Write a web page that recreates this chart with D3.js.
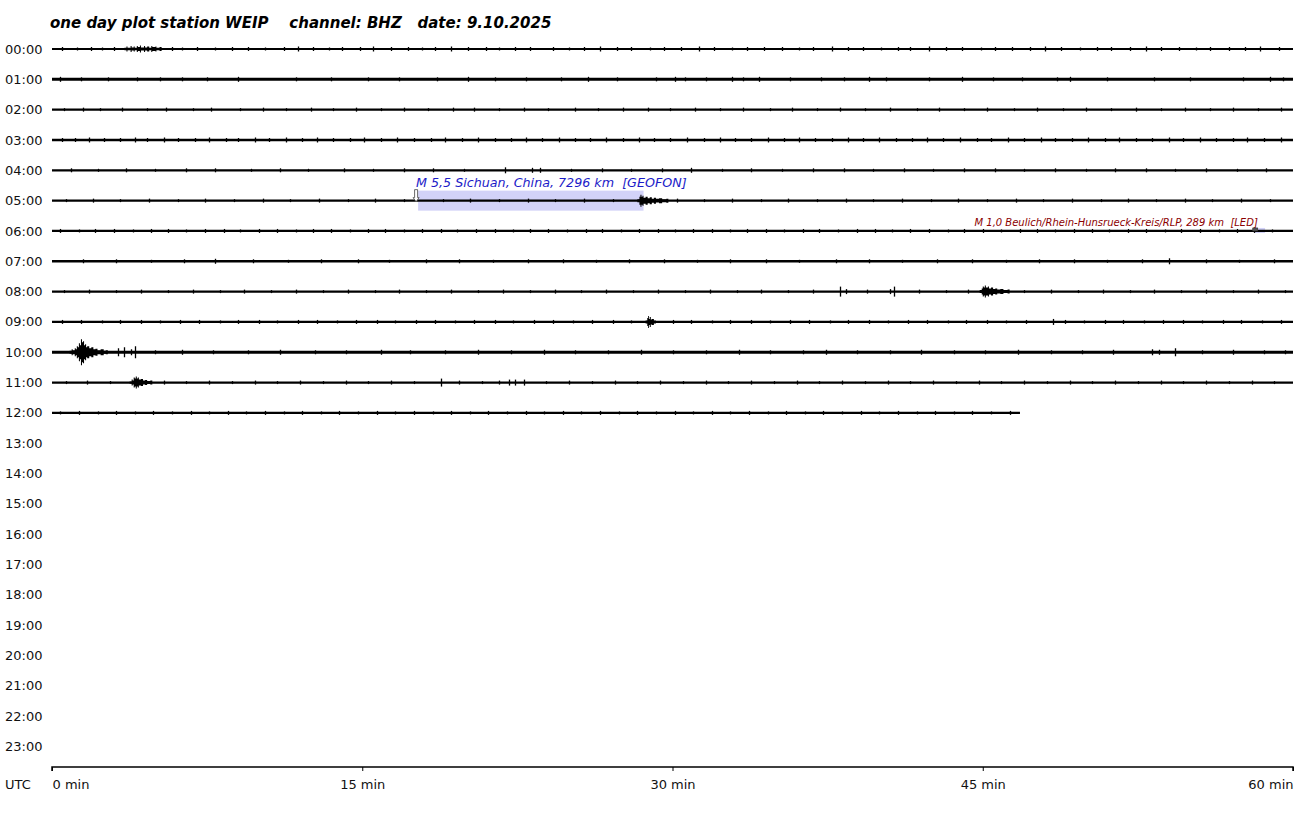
<!DOCTYPE html>
<html><head><meta charset="utf-8">
<script src="https://cdn.jsdelivr.net/npm/d3@7"></script>
<style>body{margin:0;background:#fff}svg{display:block}text{font-family:"DejaVu Sans",sans-serif}</style>
</head><body>
<svg id="c" width="1304" height="813"></svg>
<script>
// ---------- data ----------
const titleText = "one day plot station WEIP    channel: BHZ   date: 9.10.2025";
const hourLabels = ["00:00","01:00","02:00","03:00","04:00","05:00","06:00","07:00","08:00","09:00","10:00","11:00",
  "12:00","13:00","14:00","15:00","16:00","17:00","18:00","19:00","20:00","21:00","22:00","23:00"];
const minuteTicks = [0, 15, 30, 45, 60];
const minuteTickLabels = ["0 min", "15 min", "30 min", "45 min", "60 min"];
const axisUnitLabel = "UTC";
// recorded minutes per hour row (rows 00..12)
const traceEnd = [60,60,60,60,60,60,60,60,60,60,60,60,46.8];
// background noise amplitude (counts, relative) per row
const baseNoise = [1.1,1.5,1.1,1.2,1.1,1.1,1.1,1.3,1.1,1.1,1.4,1.1,1.1];
// isolated spikes per row: [minute, amplitude]
const spikes = [
  [[0.5,2],[1.2,1.5],[1.9,2],[2.4,1.5],[3.0,2],[5.8,2],[6.3,1.5],[7.0,2],[7.9,1.5],[8.7,2],[9.5,2],[10.3,1.5],[11.2,2],[11.9,2.5],[12.6,2],[13.4,1.5],[14.0,2],[14.9,2],[15.5,2.5],[16.4,2],[17.2,2],[17.9,1.5],[18.5,2],[19.3,2.5],[20.1,2],[21.0,2],[21.6,1.5],[22.4,2],[23.1,2],[24.2,2],[25.0,1.5],[25.7,2],[26.5,2.5],[27.3,2],[28.0,2],[28.9,1.5],[29.6,2],[30.4,2],[31.3,2.5],[32.0,2],[32.9,1.5],[33.6,2],[34.4,2],[35.3,2],[36.1,1.5],[36.8,2],[37.7,2.5],[38.5,2],[39.2,2],[40.1,1.5],[40.9,2],[41.5,2],[42.4,2.5],[43.2,2],[44.0,2],[44.9,1.5],[45.6,2],[46.4,2],[47.3,2],[48.0,2.5],[48.8,2],[49.7,1.5],[50.5,2],[51.2,2],[52.1,2],[52.9,2.5],[53.6,2],[54.5,2],[55.3,1.5],[56.0,2],[56.9,2],[57.7,2],[58.4,2.5],[59.3,2]],
  [[0.4,2.5],[1.4,2],[2.7,2],[4.1,2],[5.2,2],[6.3,2],[7.5,2],[9.0,2.5],[11.8,2],[13.5,2],[15.3,2],[16.8,2],[18.6,2],[20.1,2.5],[21.4,2],[22.9,2],[24.6,2],[25.9,2.5],[27.3,2],[29.2,2],[30.1,2.5],[30.6,2],[31.6,2],[32.9,2.5],[33.4,2],[34.2,2.5],[35.7,2],[37.2,2],[38.3,2],[39.5,2.5],[40.3,2],[42.4,2],[44.0,2.5],[45.5,2],[46.9,2],[48.6,2],[49.2,2.5],[51.0,2],[53.3,2],[55.0,2],[57.6,2],[58.9,2.5],[59.5,2]],
  [[0.6,1.5],[1.5,2],[2.3,1.5],[3.4,2],[4.6,1.5],[5.5,2],[6.8,1.5],[7.7,2],[9.1,1.5],[10.2,2],[11.3,1.5],[12.5,2],[13.6,1.5],[14.7,2],[15.9,1.5],[17.0,2],[18.2,1.5],[19.4,2],[20.4,2],[21.6,1.5],[22.8,2],[24.0,1.5],[25.3,2],[26.4,1.5],[27.6,2],[28.8,2],[29.9,1.5],[31.1,2],[32.3,1.5],[33.4,2],[34.7,1.5],[35.8,2],[37.0,1.5],[38.1,2],[39.3,1.5],[40.5,2],[41.8,1.5],[42.9,2],[44.1,1.5],[45.2,2],[46.5,1.5],[47.6,2],[48.9,1.5],[50.0,2],[51.2,1.5],[52.4,2],[53.6,1.5],[54.8,2],[56.0,1.5],[57.1,2],[58.3,1.5],[59.4,2]],
  [[0.5,2],[1.1,2],[1.8,2.5],[2.5,2],[3.3,2],[4.0,2.5],[4.6,2],[5.4,2.5],[6.1,2],[6.9,2],[7.6,2.5],[8.4,2],[9.0,2],[9.8,2.5],[10.5,2],[11.3,2.5],[12.1,2],[12.8,2.5],[13.6,2],[14.4,2],[15.1,2.5],[15.9,2],[16.7,2.5],[17.5,2],[18.3,2],[19.0,2.5],[19.8,2],[20.6,2.5],[21.4,2],[22.2,2],[22.9,2.5],[23.7,2],[24.5,2.5],[25.3,2],[26.0,2],[26.8,2.5],[27.6,2],[28.4,2.5],[29.1,2],[29.9,2],[30.7,2.5],[31.5,2],[32.3,2.5],[33.0,2],[33.8,2],[34.6,2.5],[35.4,2],[36.1,2.5],[36.9,2],[37.7,2],[38.5,2.5],[39.2,2],[40.0,2.5],[40.8,2],[41.6,2],[42.3,2.5],[43.1,2],[43.9,2.5],[44.7,2],[45.4,2],[46.2,2.5],[47.0,2],[47.8,2.5],[48.5,2],[49.3,2],[50.1,2.5],[50.9,2],[51.6,2.5],[52.4,2],[53.2,2],[54.0,2.5],[54.7,2],[55.5,2.5],[56.3,2],[57.1,2],[57.8,2.5],[58.6,2],[59.4,2.5]],
  [[0.9,2],[2.2,1.5],[3.6,2],[5.0,1.5],[6.5,2],[7.9,2],[9.6,1.5],[11.0,2],[12.4,1.5],[14.1,2],[15.5,1.5],[17.0,2],[18.4,2],[19.9,1.5],[21.9,3],[23.2,2.5],[23.6,2.5],[25.1,1.5],[26.6,2],[28.0,1.5],[29.5,2],[30.9,2.5],[32.4,1.5],[33.8,2],[35.3,1.5],[36.8,2],[38.3,2],[39.7,1.5],[41.2,2],[42.6,1.5],[44.1,2],[45.6,2],[47.0,1.5],[48.5,2],[50.0,1.5],[51.4,2],[52.9,2],[54.3,1.5],[55.8,2],[57.3,1.5],[58.7,2]],
  [[0.7,1.5],[2.0,2],[3.3,1.5],[4.7,2],[6.1,1.5],[7.4,2],[8.8,1.5],[10.2,2],[11.5,1.5],[12.9,2],[14.3,1.5],[15.6,2],[17.0,1.5],[18.9,1.5],[20.2,2],[21.6,1.5],[23.0,2],[24.3,1.5],[25.7,2],[27.1,1.5],[30.2,2],[31.5,1.5],[32.9,2],[34.3,1.5],[35.6,2],[37.0,1.5],[38.4,2],[39.7,1.5],[41.1,2],[42.5,1.5],[43.8,2],[45.2,1.5],[46.6,2],[47.9,1.5],[49.3,2],[50.7,1.5],[52.0,2],[53.4,1.5],[54.8,2],[56.1,1.5],[57.5,2],[58.9,1.5]],
  [[0.4,2],[1.3,1.5],[2.1,2],[3.0,2],[3.9,1.5],[4.8,2],[5.6,2],[6.5,1.5],[7.4,2],[8.3,2],[9.1,1.5],[10.0,2],[10.9,2],[11.8,1.5],[12.6,2],[13.5,2],[14.4,1.5],[15.3,2],[16.1,2],[17.0,1.5],[17.9,2],[18.8,2],[19.6,1.5],[20.5,2],[21.4,2],[22.3,1.5],[23.1,2],[24.0,2],[24.9,1.5],[25.8,2],[26.6,2],[27.5,1.5],[28.4,2],[29.3,2],[30.1,1.5],[31.0,2],[31.9,2],[32.8,1.5],[33.6,2],[34.5,2],[35.4,1.5],[36.3,2],[37.1,2],[38.0,1.5],[38.9,2],[39.8,2],[40.6,1.5],[41.5,2],[42.4,2],[43.3,1.5],[44.1,2],[45.0,2],[45.9,1.5],[46.8,2],[47.6,2],[48.5,1.5],[49.4,2],[50.3,2],[51.1,1.5],[52.0,2],[52.9,2],[53.8,1.5],[54.6,2],[55.5,2],[56.4,1.5],[57.3,2],[58.1,2],[59.0,1.5]],
  [[1.5,2],[3.1,2],[4.8,1.5],[6.4,2],[7.9,2.5],[9.7,2],[11.4,1.5],[13.0,2],[14.8,2],[16.3,1.5],[18.1,2],[19.7,2],[21.3,1.5],[23.0,2],[24.7,2],[26.3,1.5],[27.9,2],[29.6,2],[31.2,1.5],[32.8,2],[34.5,2],[36.1,1.5],[37.9,2],[39.5,2],[41.1,1.5],[42.8,2],[44.5,2],[46.1,1.5],[47.7,2],[49.4,2],[51.0,1.5],[52.7,2],[54.0,3],[55.8,2],[57.4,1.5],[59.1,2]],
  [[0.6,1.5],[1.8,2],[3.1,1.5],[4.3,2],[5.6,1.5],[6.8,2],[8.1,1.5],[9.3,2],[10.6,1.5],[11.8,2],[13.1,1.5],[14.3,2],[15.6,1.5],[16.8,2],[18.1,1.5],[19.3,2],[20.6,1.5],[21.8,2],[23.1,1.5],[24.3,2],[25.6,1.5],[26.8,2],[28.1,1.5],[29.3,2],[30.6,1.5],[31.8,2],[33.1,1.5],[34.3,2],[35.6,1.5],[36.8,2],[38.1,5],[38.4,2.5],[39.4,2],[40.5,2.5],[40.7,5],[41.9,2],[43.2,1.5],[44.3,2],[47.0,1.5],[48.3,2],[49.6,1.5],[50.8,2],[52.1,1.5],[53.3,2],[54.6,1.5],[55.8,2],[57.1,1.5],[58.3,2],[59.6,1.5]],
  [[0.5,2],[1.4,2],[2.4,1.5],[3.3,2],[4.3,2],[5.2,1.5],[6.2,2],[7.1,2],[8.1,1.5],[9.0,2],[10.0,2],[10.9,1.5],[11.9,2],[12.8,2],[13.8,1.5],[14.7,2],[15.7,2],[16.6,1.5],[17.6,2],[18.5,2],[19.5,1.5],[20.4,2],[21.4,2],[22.3,1.5],[23.3,2],[24.2,2],[25.2,1.5],[26.1,2],[27.1,2],[28.0,1.5],[30.0,2],[30.9,2],[31.9,1.5],[32.8,2],[33.8,2],[34.7,1.5],[35.7,2],[36.6,2],[37.6,1.5],[38.5,2],[39.5,2],[40.4,1.5],[41.4,2],[42.3,2],[43.3,1.5],[44.2,2],[45.2,2],[46.1,1.5],[47.1,2],[48.4,3],[49.0,2],[49.9,1.5],[50.9,2],[51.8,2],[52.8,1.5],[53.7,2],[54.7,2],[55.6,1.5],[56.6,2],[57.5,2],[58.5,1.5],[59.4,2]],
  [[3.2,4],[3.5,5],[3.8,3],[4.0,6],[5.0,2],[6.3,2.5],[7.8,2],[9.5,2],[11.0,2.5],[12.7,2],[14.2,2],[15.9,2.5],[17.3,2],[19.0,2],[20.6,2.5],[22.2,2],[23.8,2.5],[25.3,2],[26.9,2],[28.5,2.5],[30.0,2],[31.6,2],[33.2,2.5],[34.7,2],[36.3,2],[37.4,2.5],[38.9,2],[40.5,2],[42.0,2.5],[43.6,2],[45.1,2],[46.7,2.5],[48.3,2],[49.8,2],[51.3,2.5],[53.2,3],[53.5,2.5],[54.3,4],[55.6,2],[57.1,2.5],[58.6,2],[59.6,2]],
  [[0.7,1.5],[1.7,2],[2.8,1.5],[5.4,2],[6.5,1.5],[7.6,2],[8.7,1.5],[9.8,2],[10.9,1.5],[12.0,2],[13.1,1.5],[14.2,2],[15.3,1.5],[16.4,2],[17.5,1.5],[18.8,4],[19.7,2],[20.8,1.5],[21.6,2],[22.1,3],[22.4,3],[22.8,3],[23.9,1.5],[25.0,2],[26.1,1.5],[27.2,2],[28.3,1.5],[29.4,2],[30.5,1.5],[31.6,2],[32.7,1.5],[33.8,2],[34.9,1.5],[36.0,2],[37.1,1.5],[38.2,2],[39.3,1.5],[40.4,2],[41.5,1.5],[42.6,2],[43.7,1.5],[44.8,2],[45.9,1.5],[47.0,2],[48.1,1.5],[49.2,2],[50.3,1.5],[51.4,2],[52.5,1.5],[53.6,2],[54.7,1.5],[55.8,2],[56.9,1.5],[58.0,2],[59.1,1.5]],
  [[0.4,1.5],[1.3,2],[2.2,1.5],[3.1,2],[4.0,1.5],[4.9,2],[5.8,1.5],[6.7,2],[7.6,1.5],[8.5,2],[9.4,1.5],[10.3,2],[11.2,1.5],[12.1,2],[13.0,1.5],[13.9,2],[14.8,1.5],[15.7,2],[16.6,1.5],[17.5,2],[18.4,1.5],[19.3,2],[20.2,1.5],[21.1,2],[22.0,1.5],[22.9,2],[23.8,1.5],[24.7,2],[25.6,1.5],[26.5,2],[27.4,1.5],[28.3,2],[29.2,1.5],[30.1,2],[31.0,1.5],[31.9,2],[32.8,1.5],[33.7,2],[34.6,1.5],[35.5,2],[36.4,1.5],[37.3,2],[38.2,1.5],[39.1,2],[40.0,1.5],[40.9,2],[41.8,1.5],[42.7,2],[43.6,1.5],[44.5,2],[45.4,1.5],[46.3,2]]
];
// transient bursts: row index and jagged envelope [minute, amplitude]
const bursts = [
  {row:0,  env:[[3.5,1.2],[3.6,2.5],[3.65,1.2],[3.8,3],[3.85,1.5],[3.95,2.5],[4.0,1.2],[4.1,3],[4.15,2],[4.25,3.5],[4.3,1.5],[4.45,3],[4.5,1.5],[4.6,2.5],[4.7,1.2],[4.8,3],[4.85,2],[5.0,2.5],[5.05,1.2],[5.2,2],[5.3,1.2]]},
  {row:5,  env:[[28.3,1.5],[28.4,4],[28.45,6],[28.5,4],[28.55,5],[28.6,3],[28.7,4],[28.8,2.5],[28.9,3.5],[29.0,2],[29.1,3],[29.2,1.8],[29.35,2.5],[29.5,1.5],[29.7,2],[29.8,1.2]]},
  {row:8,  env:[[44.85,1.5],[44.95,3],[45.0,5],[45.05,4],[45.1,6],[45.15,4],[45.25,5],[45.3,3],[45.4,4],[45.5,2.5],[45.6,3],[45.7,2],[45.85,2.5],[46.0,1.5],[46.2,2],[46.3,1.2]]},
  {row:9,  env:[[28.7,1.5],[28.78,4],[28.82,6],[28.86,3],[28.9,5],[28.95,2.5],[29.0,3],[29.1,1.5],[29.2,1.2]]},
  {row:10, env:[[0.85,1.5],[0.95,3],[1.0,2],[1.1,4],[1.15,3],[1.2,6],[1.25,5],[1.3,9],[1.35,7],[1.4,13],[1.45,10],[1.5,11],[1.55,7],[1.6,8],[1.65,5],[1.7,6],[1.8,4],[1.9,5],[2.0,3],[2.1,3.5],[2.2,2],[2.35,3],[2.5,1.5],[2.6,2],[2.7,1.4]]},
  {row:11, env:[[3.75,1.2],[3.85,3],[3.9,2],[3.95,5],[4.0,4],[4.05,6],[4.1,4],[4.15,5],[4.2,3],[4.3,3.5],[4.4,2],[4.5,2.5],[4.6,1.5],[4.75,2],[4.85,1.2]]}
];
// catalogue events
const events = [
  {row:5, label:"M 5,5 Sichuan, China, 7296 km  [GEOFON]", start:17.7, end:28.6, labelAt:17.6, size:12.7, color:"#1c1cc8"},
  {row:6, label:"M 1,0 Beulich/Rhein-Hunsrueck-Kreis/RLP, 289 km  [LED]", start:58.15, end:58.65, labelAt:44.6, size:10, color:"#8b0000"}
];

// ---------- drawing ----------
const svg = d3.select("#c");
const x = d3.scaleLinear().domain([0, 60]).range([52, 1293]);
const y = d3.scalePoint().domain(hourLabels).range([49, 746.5]);
const amp = d3.scaleLinear().domain([0, 1]).range([0, 1]); // counts -> px

svg.append("text").attr("x", 50).attr("y", 28)
  .attr("font-size", 15).attr("font-weight", "bold").attr("font-style", "italic")
  .style("white-space", "pre").text(titleText);

svg.append("g").selectAll("text").data(hourLabels).join("text")
  .attr("x", 5).attr("y", d => y(d)).attr("dy", "0.35em")
  .attr("font-size", 13).attr("fill", "#111").text(d => d);

// event boxes (behind traces)
events.forEach(ev => {
  const cy = y(hourLabels[ev.row]);
  svg.append("rect").attr("x", x(ev.start)).attr("width", x(ev.end) - x(ev.start))
    .attr("y", cy - (ev.row === 5 ? 10 : 3)).attr("height", ev.row === 5 ? 20 : 5)
    .attr("fill", "#d2d2f8");
});

const traces = svg.append("g");
traceEnd.forEach((end, i) => {
  const cy = y(hourLabels[i]);
  traces.append("line").attr("x1", x(0)).attr("x2", x(end)).attr("y1", cy).attr("y2", cy)
    .attr("stroke", "#000").attr("stroke-width", 2 * amp(baseNoise[i]));
  traces.append("g").selectAll("line").data(spikes[i]).join("line")
    .attr("x1", d => Math.round(x(d[0])) + 0.5).attr("x2", d => Math.round(x(d[0])) + 0.5)
    .attr("y1", d => cy - amp(d[1])).attr("y2", d => cy + amp(d[1]))
    .attr("stroke", "#000").attr("stroke-width", 1.3);
});
const area = d3.area().x(d => x(d[0])).curve(d3.curveStepAfter);
bursts.forEach(b => {
  const cy = y(hourLabels[b.row]);
  traces.append("path").datum(b.env)
    .attr("d", area.y0(d => cy + amp(d[1])).y1(d => cy - amp(d[1])))
    .attr("fill", "#000");
});

// event labels and markers
events.forEach(ev => {
  const cy = y(hourLabels[ev.row]);
  svg.append("text").attr("x", x(ev.labelAt)).attr("y", cy - (ev.row === 5 ? 14 : 5))
    .attr("font-size", ev.size).attr("font-style", "italic").attr("fill", ev.color)
    .style("white-space", "pre").text(ev.label);
  const mx = x(ev.start) - 2;
  if (ev.row === 5) {
    svg.append("path").attr("d", `M${mx-1.5},${cy-11} v8 h-1.5 l3,4 l3,-4 h-1.5 v-8 z`)
      .attr("fill", "#fff").attr("stroke", "#444").attr("stroke-width", 0.8);
  } else {
    svg.append("rect").attr("x", mx).attr("y", cy - 3).attr("width", 5).attr("height", 3)
      .attr("fill", "#555").attr("stroke", "#333").attr("stroke-width", 0.6);
  }
});

// time axis
const axisY = 767;
const axis = svg.append("g").attr("transform", `translate(0,${axisY})`)
  .call(d3.axisBottom(x).tickValues(minuteTicks).tickSize(4).tickFormat((d, i) => minuteTickLabels[i]));
axis.select(".domain").attr("stroke", "#000").attr("stroke-width", 1.5).attr("d", `M${x(0)},4V0H${x(60)}V4`);
axis.selectAll(".tick text").attr("font-size", 13).attr("font-family", "DejaVu Sans, sans-serif")
  .attr("fill", "#111").attr("y", 13)
  .attr("text-anchor", (d, i) => i === 0 ? "start" : (i === minuteTicks.length - 1 ? "end" : "middle"));
svg.append("text").attr("x", 5).attr("y", 784).attr("dy", "0.35em").attr("font-size", 13)
  .attr("fill", "#111").text(axisUnitLabel);
</script>
</body></html>
